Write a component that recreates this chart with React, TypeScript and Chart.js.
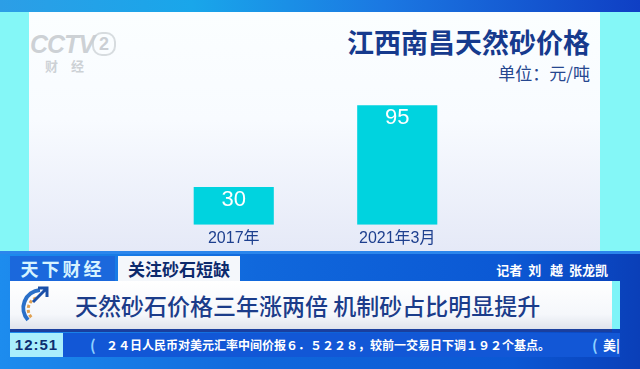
import React, { useEffect, useRef } from "react";
import { Chart, registerables } from "chart.js";

Chart.register(...registerables);

const categories: string[] = ["2017年", "2021年3月"];
const prices: number[] = [30, 95];
const chartTitle = "江西南昌天然砂价格";
const unitLabel = "单位：元/吨";
const headline = "天然砂石价格三年涨两倍 机制砂占比明显提升";
const tickerText = "２４日人民币对美元汇率中间价报６．５２２８，较前一交易日下调１９２个基点。";

const FONT = '"Liberation Sans", "Noto Sans CJK SC", Arial, sans-serif';
const CJK = '"Noto Sans CJK SC", "Liberation Sans", sans-serif';

const valueLabelPlugin = {
  id: "valueLabels",
  afterDatasetsDraw(chart: any) {
    const ctx = chart.ctx;
    const meta = chart.getDatasetMeta(0);
    const data = chart.data.datasets[0].data as number[];
    ctx.save();
    ctx.fillStyle = "#ffffff";
    ctx.font = `22px ${FONT}`;
    ctx.textAlign = "center";
    ctx.textBaseline = "middle";
    meta.data.forEach((bar: any, i: number) => {
      ctx.fillText(String(data[i]), bar.x, bar.y + 13);
    });
    ctx.restore();
  },
};

function BarChart() {
  const ref = useRef<HTMLCanvasElement | null>(null);
  useEffect(() => {
    if (!ref.current) return;
    const chart = new Chart(ref.current, {
      type: "bar",
      data: {
        labels: categories,
        datasets: [
          {
            data: prices,
            backgroundColor: "#00d3df",
            borderWidth: 0,
            categoryPercentage: 0.49,
            barPercentage: 1,
          },
        ],
      },
      options: {
        responsive: false,
        animation: false,
        devicePixelRatio: 1,
        layout: { padding: 0 },
        plugins: {
          legend: { display: false },
          tooltip: { enabled: false },
          title: { display: false },
        },
        scales: {
          x: {
            grid: { display: false, drawTicks: false },
            border: { display: false },
            ticks: {
              color: "#1d3f8e",
              font: { size: 16, family: FONT },
              padding: 4,
            },
          },
          y: {
            display: false,
            min: 0,
            max: 100,
          },
        },
      },
      plugins: [valueLabelPlugin],
    });
    return () => chart.destroy();
  }, []);
  return <canvas ref={ref} width={327} height={153} style={{ display: "block" }} />;
}

export default function App() {
  const abs = (s: React.CSSProperties): React.CSSProperties => ({ position: "absolute", ...s });
  return (
    <div
      style={{
        position: "fixed",
        left: 0,
        top: 0,
        width: 640,
        height: 369,
        overflow: "hidden",
        background: "#84f7f7",
        fontFamily: CJK,
      }}
    >
      {/* top band */}
      <div style={abs({ left: 0, top: 0, width: 640, height: 12, background: "linear-gradient(90deg, #2c9ee6 0%, #19a6ea 30%, #1b78e2 60%, #0f3fc4 100%)" })} />
      {/* panel */}
      <div style={abs({ left: 29, top: 12, width: 571, height: 239, background: "linear-gradient(180deg, #fbfeff 0%, #f8fbff 45%, #e5e9f7 100%)" })} />
      {/* watermark */}
      <div style={abs({ left: 30, top: 30, fontFamily: FONT, fontWeight: 700, fontStyle: "italic", fontSize: 25, color: "rgba(190,195,200,0.75)", letterSpacing: -1 })}>CCTV</div>
      <div style={abs({ left: 92, top: 32, width: 20, height: 20, borderRadius: 10, border: "2px solid rgba(200,205,210,0.7)", color: "rgba(190,195,200,0.8)", fontFamily: FONT, fontWeight: 700, fontSize: 18, lineHeight: "20px", textAlign: "center" })}>2</div>
      <div style={abs({ left: 45, top: 56, fontSize: 13, fontWeight: 700, color: "rgba(190,195,200,0.75)", letterSpacing: 13 })}>财经</div>
      {/* titles */}
      <div style={abs({ right: 50, top: 25, fontSize: 27, fontWeight: 700, color: "#163a8d", lineHeight: "34px", whiteSpace: "nowrap" })}>{chartTitle}</div>
      <div style={abs({ right: 50, top: 62, fontSize: 17, color: "#26478f", lineHeight: "22px", whiteSpace: "nowrap" })}>{unitLabel}</div>
      {/* chart */}
      <div style={abs({ left: 152, top: 99, width: 327, height: 153 })}>
        <BarChart />
      </div>
      {/* banner background */}
      <div style={abs({ left: 0, top: 251, width: 640, height: 118, background: "linear-gradient(90deg, #1d8cee 0%, #1068dc 40%, #0b58d4 80%, #0a3fb8 100%)" })} />
      <div style={abs({ left: 0, top: 251, width: 640, height: 3, background: "#2b86ec" })} />
      <div style={abs({ left: 10, top: 256, width: 105, height: 25, background: "#1b68dc", color: "#d6f3ff", fontSize: 18, fontWeight: 700, lineHeight: "25px", textAlign: "center", letterSpacing: 3 })}>天下财经</div>
      <div style={abs({ left: 118, top: 256, width: 122, height: 25, background: "#f4f7fb", color: "#0c2a6c", fontSize: 17, fontWeight: 700, lineHeight: "25px", textAlign: "center" })}>关注砂石短缺</div>
      <div style={abs({ right: 32, top: 261, color: "#ffffff", fontSize: 13, fontWeight: 700, lineHeight: "18px", whiteSpace: "pre" })}>{"记者  刘   越  张龙凯"}</div>
      {/* headline bar */}
      <div style={abs({ left: 10, top: 281, width: 602, height: 48, background: "linear-gradient(180deg, #ffffff 0%, #f5f7fb 70%, #dfe3ec 100%)", borderBottom: "3px solid #1a3f9e" })} />
      <div style={abs({ left: 612, top: 281, width: 8, height: 48, background: "#7ef4f8" })} />
      <svg style={abs({ left: 18, top: 284, width: 34, height: 44 })} viewBox="0 0 34 44">
        <path d="M22 6 A18 18 0 0 0 10 36" stroke="#2a6fc8" strokeWidth="4" fill="none" />
        <path d="M18 14 A12 12 0 0 0 14 34" stroke="#e0a050" strokeWidth="3" fill="none" strokeDasharray="3 2" />
        <path d="M15 18 L28 5 M20 4 L29 4 L29 13" stroke="#1a4fa8" strokeWidth="3" fill="none" />
      </svg>
      <div style={abs({ left: 75, top: 289, fontSize: 23, color: "#1b3c8a", fontWeight: 500, lineHeight: "32px", whiteSpace: "pre" })}>{headline}</div>
      {/* ticker */}
      <div style={abs({ left: 10, top: 333, width: 53, height: 24, background: "#a9eefc", color: "#0d2f72", fontFamily: FONT, fontSize: 15, fontWeight: 700, lineHeight: "24px", textAlign: "center", letterSpacing: 1 })}>12:51</div>
      <div style={abs({ left: 63, top: 333, width: 557, height: 24, background: "#1257d6" })} />
      <div style={abs({ left: 90, top: 333, color: "#8fd0ff", fontSize: 15, fontWeight: 700, lineHeight: "24px" })}>(</div>
      <div style={abs({ left: 106, top: 333, color: "#ffffff", fontSize: 12, fontWeight: 700, lineHeight: "24px", letterSpacing: 0, whiteSpace: "pre" })}>{tickerText}</div>
      <div style={abs({ left: 592, top: 333, color: "#8fd0ff", fontSize: 15, fontWeight: 700, lineHeight: "24px" })}>(</div>
      <div style={abs({ left: 603, top: 333, color: "#ffffff", fontSize: 13, fontWeight: 700, lineHeight: "24px", whiteSpace: "pre" })}>美|</div>
    </div>
  );
}
